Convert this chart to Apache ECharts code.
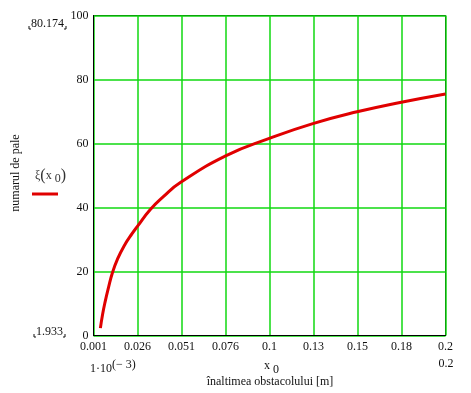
<!DOCTYPE html>
<html>
<head>
<meta charset="utf-8">
<script src="https://cdn.jsdelivr.net/npm/echarts@6/dist/echarts.min.js"></script>
<style>
html,body{margin:0;padding:0;background:#fff;}
#c{width:471px;height:393px;}
</style>
</head>
<body>
<div id="c"></div>
<script>
// Data
const xValues = [0.0049, 0.0061, 0.0076, 0.0094, 0.0117, 0.0145, 0.0183, 0.0229, 0.0257, 0.033, 0.0405, 0.0499, 0.076, 0.1, 0.125, 0.15, 0.175, 0.2];
const yValues = [2.3, 6.5, 10.6, 14.8, 19.6, 23.8, 28.0, 31.9, 34.0, 39.3, 43.4, 47.7, 56.2, 61.5, 66.2, 69.9, 72.9, 75.5];
const xTickLabels = ['0.001', '0.026', '0.051', '0.076', '0.1', '0.13', '0.15', '0.18', '0.2'];
const yTicks = [0, 20, 40, 60, 80, 100];
const xMin = 0.001, xMax = 0.2;
const yMin = 0, yMax = 100;
const yMaxMarker = '80.174';
const yMinMarker = '1.933';

const FONT = '"Liberation Serif", "DejaVu Serif", serif';
const xInterval = (xMax - xMin) / (xTickLabels.length - 1);
const GREEN = '#10d810';

const chart = echarts.init(document.getElementById('c'), null, {renderer: 'canvas'});
const option = {
  backgroundColor: '#ffffff',
  animation: false,
  grid: {left: 93.5, right: 25.5, top: 15.5, bottom: 57.5, show: true, borderColor: '#000', borderWidth: 1},
  xAxis: {
    type: 'value', min: xMin, max: xMax, interval: xInterval,
    axisLine: {show: true, lineStyle: {color: '#000', width: 1}},
    axisTick: {show: false},
    splitLine: {show: true, lineStyle: {color: GREEN, width: 1.5}},
    axisLabel: {
      color: '#111', fontFamily: FONT, fontSize: 12, margin: 5,
      showMinLabel: true, showMaxLabel: true, hideOverlap: false,
      formatter: function (v) {
        const i = Math.round((v - xMin) / xInterval);
        return xTickLabels[i] !== undefined ? xTickLabels[i] : '';
      }
    }
  },
  yAxis: {
    type: 'value', min: yMin, max: yMax, interval: yTicks[1] - yTicks[0],
    axisLine: {show: true, lineStyle: {color: '#000', width: 1}},
    axisTick: {show: false},
    splitLine: {show: true, lineStyle: {color: GREEN, width: 1.5}},
    axisLabel: {color: '#111', fontFamily: FONT, fontSize: 12, margin: 5}
  },
  series: [{
    type: 'line',
    data: xValues.map((x, i) => [x, yValues[i]]),
    smooth: true,
    showSymbol: false,
    lineStyle: {color: '#e00000', width: 3},
    itemStyle: {color: '#e00000'},
    z: 5
  }],
  graphic: [
    {type: 'text', x: 16, y: 173, rotation: Math.PI / 2,
     style: {text: 'numarul de pale', font: '12px ' + FONT, fill: '#111', align: 'center', verticalAlign: 'middle'}},
    {type: 'text', x: 35, y: 176,
     style: {rich: {
        m: {font: '12px ' + FONT, fill: '#333'},
        p: {font: '16px ' + FONT, fill: '#333'},
        s: {font: '12px ' + FONT, fill: '#333', padding: [6, 0, 0, 0]}
      },
      text: '{m|ξ}{p|(}{m|x }{s|0}{p|)}', verticalAlign: 'middle'}},
    {type: 'line', shape: {x1: 32, y1: 194, x2: 58, y2: 194}, style: {stroke: '#e00000', lineWidth: 3}},
    {type: 'text', x: 31, y: 24, style: {text: yMaxMarker, font: '12px ' + FONT, fill: '#111', verticalAlign: 'middle'}},
    {type: 'polyline', shape: {points: [[29, 26], [29, 29], [31, 29]]}, style: {stroke: '#111', lineWidth: 1, fill: null}},
    {type: 'polyline', shape: {points: [[64, 29], [66, 29], [66, 26]]}, style: {stroke: '#111', lineWidth: 1, fill: null}},
    {type: 'text', x: 36, y: 332, style: {text: yMinMarker, font: '12px ' + FONT, fill: '#111', verticalAlign: 'middle'}},
    {type: 'polyline', shape: {points: [[34, 334], [34, 337], [36, 337]]}, style: {stroke: '#111', lineWidth: 1, fill: null}},
    {type: 'polyline', shape: {points: [[63, 337], [65, 337], [65, 334]]}, style: {stroke: '#111', lineWidth: 1, fill: null}},
    {type: 'text', x: 90, y: 369,
     style: {rich: {
        m: {font: '12px ' + FONT, fill: '#111'},
        s: {font: '12px ' + FONT, fill: '#111', padding: [0, 0, 9, 0]}
      },
      text: '{m|1·10}{s|(− 3)}', verticalAlign: 'middle'}},
    {type: 'text', x: 264, y: 366,
     style: {rich: {
        m: {font: '12px ' + FONT, fill: '#111'},
        s: {font: '12px ' + FONT, fill: '#111', padding: [8, 0, 0, 0]}
      },
      text: '{m|x }{s|0}', verticalAlign: 'middle'}},
    {type: 'text', x: 446, y: 364, style: {text: '0.2', font: '12px ' + FONT, fill: '#111', align: 'center', verticalAlign: 'middle'}},
    {type: 'text', x: 270, y: 382, style: {text: 'înaltimea obstacolului [m]', font: '12px ' + FONT, fill: '#111', align: 'center', verticalAlign: 'middle'}}
  ]
};
chart.setOption(option);
</script>
</body>
</html>
